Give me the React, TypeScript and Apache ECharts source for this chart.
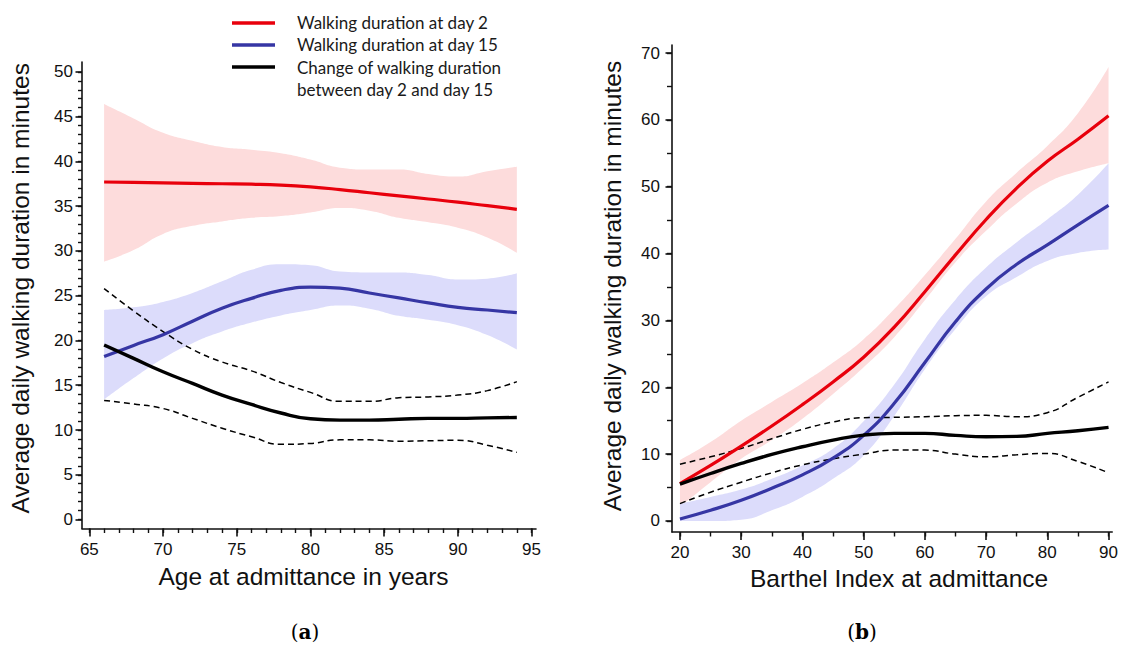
import React, { useEffect, useRef } from "react";
import * as echarts from "echarts";

// ---------- Panel (a): age at admittance ----------
const ageX = [66, 68, 70, 72, 74, 76, 78, 80, 82, 84, 86, 88, 90, 92, 94];
const ageRed = [37.7, 37.65, 37.6, 37.55, 37.5, 37.45, 37.35, 37.15, 36.85, 36.5, 36.15, 35.8, 35.45, 35.05, 34.65];
const ageRedHi = [46.4, 44.8, 43.2, 42.3, 41.6, 41.3, 40.9, 40.2, 39.3, 39.1, 39.1, 38.6, 38.3, 38.9, 39.4];
const ageRedLo = [28.8, 30.1, 31.9, 32.8, 33.3, 33.7, 33.9, 34.3, 34.8, 34.5, 33.7, 33.2, 32.6, 31.5, 29.8];
const ageBlue = [18.2, 19.45, 20.65, 22.15, 23.6, 24.7, 25.6, 25.95, 25.85, 25.3, 24.75, 24.2, 23.7, 23.4, 23.1];
const ageBlueHi = [23.4, 23.7, 24.3, 25.3, 26.6, 27.9, 28.5, 28.4, 27.7, 27.6, 27.6, 27.3, 26.8, 26.9, 27.5];
const ageBlueLo = [13.4, 15.8, 18.0, 19.7, 21.0, 22.0, 22.8, 23.4, 23.9, 23.55, 22.75, 22.3, 21.7, 20.6, 19.0];
const ageChange = [19.5, 18.0, 16.5, 15.2, 13.9, 12.85, 11.9, 11.25, 11.1, 11.1, 11.2, 11.3, 11.3, 11.35, 11.4];
const ageChangeHi = [25.8, 23.3, 21.0, 19.0, 17.6, 16.6, 15.3, 14.2, 13.2, 13.2, 13.6, 13.7, 13.9, 14.4, 15.4];
const ageChangeLo = [13.3, 12.9, 12.4, 11.3, 10.2, 9.25, 8.4, 8.5, 8.9, 8.9, 8.75, 8.8, 8.85, 8.3, 7.5];

const ageTicks = [65, 70, 75, 80, 85, 90, 95];
const ageMinorTicks = Array.from({ length: 31 }, (_, i) => 65 + i);
const ageYTicks = [0, 5, 10, 15, 20, 25, 30, 35, 40, 45, 50];
const ageYMinorTicks = Array.from({ length: 51 }, (_, i) => i);

// ---------- Panel (b): Barthel index ----------
const barX = [20, 25, 30, 35, 40, 45, 50, 55, 60, 65, 70, 75, 80, 85, 90];
const barRed = [5.6, 8.3, 11.2, 14.2, 17.4, 20.8, 24.5, 29.0, 34.3, 39.8, 45.1, 49.8, 53.8, 57.1, 60.6];
const barRedHi = [9.1, 11.8, 15.0, 17.8, 20.6, 23.7, 27.2, 31.7, 36.8, 42.2, 47.8, 52.1, 56.1, 61.0, 67.9];
const barRedLo = [2.1, 5.8, 9.3, 12.1, 15.3, 19.0, 23.0, 27.5, 33.0, 38.7, 43.4, 47.5, 50.6, 52.3, 53.5];
const barBlue = [0.3, 1.6, 3.1, 4.9, 6.9, 9.4, 12.8, 17.6, 23.7, 29.8, 34.7, 38.4, 41.3, 44.3, 47.2];
const barBlueHi = [2.1, 3.3, 4.7, 6.3, 8.3, 10.8, 14.9, 20.4, 27.2, 33.1, 37.9, 41.7, 45.1, 48.8, 53.5];
const barBlueLo = [-0.5, -0.3, 0.2, 1.6, 3.6, 6.3, 9.8, 15.7, 22.7, 28.7, 33.6, 36.5, 38.9, 40.1, 40.6];
const barChange = [5.5, 7.1, 8.6, 9.95, 11.1, 12.1, 12.85, 13.1, 13.1, 12.8, 12.6, 12.65, 13.1, 13.5, 14.0];
const barChangeHi = [8.5, 9.6, 10.85, 12.3, 13.7, 14.8, 15.45, 15.5, 15.6, 15.75, 15.8, 15.6, 16.2, 18.5, 20.8];
const barChangeLo = [2.6, 4.3, 5.8, 7.2, 8.4, 9.3, 10.0, 10.6, 10.6, 10.0, 9.6, 9.9, 10.1, 8.9, 7.2];

const barTicks = [20, 30, 40, 50, 60, 70, 80, 90];
const barMinorTicks = [20, 25, 30, 35, 40, 45, 50, 55, 60, 65, 70, 75, 80, 85, 90];
const barYTicks = [0, 10, 20, 30, 40, 50, 60, 70];
const barYMinorTicks = [0, 5, 10, 15, 20, 25, 30, 35, 40, 45, 50, 55, 60, 65, 70];

const legendLabels = [
  "Walking duration at day 2",
  "Walking duration at day 15",
  "Change of walking duration",
  "between day 2 and day 15",
];

const RED = "#e8000c";
const BLUE = "#3636a4";
const BLACK = "#000000";
const RED_BAND = "#fddcdc";
const BLUE_BAND = "#dcdcfb";
const AXIS = "#111111";
const FONT = "Liberation Sans";

function xAxes(grid: number, min: number, max: number, major: number[], minor: number[], name: string, nameGap: number, margin: number, pad: number[]) {
  return [
    {
      type: "value", gridIndex: grid, position: "bottom", min, max, z: 10,
      name, nameLocation: "middle", nameGap,
      nameTextStyle: { fontSize: 24.5, color: AXIS, fontFamily: FONT, padding: pad },
      axisLine: { show: true, onZero: false, lineStyle: { color: AXIS, width: 1.6 } },
      axisTick: { show: true, customValues: major, length: 8, lineStyle: { color: AXIS, width: 1.6 } },
      axisLabel: { customValues: major, fontSize: 17, color: AXIS, margin, fontFamily: FONT },
      splitLine: { show: false },
    },
    {
      type: "value", gridIndex: grid, position: "bottom", min, max, z: 10,
      axisLine: { show: false, onZero: false },
      axisTick: { show: true, customValues: minor, length: 4.5, lineStyle: { color: AXIS, width: 1.4 } },
      axisLabel: { show: false },
      splitLine: { show: false },
    },
  ];
}

function yAxes(grid: number, min: number, max: number, major: number[], minor: number[], name: string, nameGap: number, margin: number, minorLen: number, pad: number[]) {
  return [
    {
      type: "value", gridIndex: grid, position: "left", min, max, z: 10,
      name, nameLocation: "middle", nameGap,
      nameTextStyle: { fontSize: 24.5, color: AXIS, fontFamily: FONT, padding: pad },
      axisLine: { show: true, onZero: false, lineStyle: { color: AXIS, width: 1.6 } },
      axisTick: { show: true, customValues: major, length: 6.5, lineStyle: { color: AXIS, width: 1.6 } },
      axisLabel: { customValues: major, fontSize: 17, color: AXIS, margin, fontFamily: FONT },
      splitLine: { show: false },
    },
    {
      type: "value", gridIndex: grid, position: "left", min, max, z: 10,
      axisLine: { show: false, onZero: false },
      axisTick: { show: true, customValues: minor, length: minorLen, lineStyle: { color: AXIS, width: 1.4 } },
      axisLabel: { show: false },
      splitLine: { show: false },
    },
  ];
}

// Confidence band as a stacked pair: the lower bound (invisible) and the band
// width stacked on top of it. The value comes first in each item so that the
// stack is applied to the y values.
function band(id: string, xs: number[], lo: number[], hi: number[], color: string, xi: number, yi: number) {
  return [
    {
      type: "line", id: id + "lo", xAxisIndex: xi, yAxisIndex: yi, smooth: true, stack: id,
      symbol: "none", silent: true, lineStyle: { opacity: 0, width: 0 },
      encode: { x: 1, y: 0 },
      data: xs.map((x, i) => [lo[i], x]),
    },
    {
      type: "line", id: id + "hi", xAxisIndex: xi, yAxisIndex: yi, smooth: true, stack: id,
      symbol: "none", silent: true, lineStyle: { opacity: 0, width: 0 },
      areaStyle: { color, opacity: 1 },
      encode: { x: 1, y: 0 },
      data: xs.map((x, i) => [hi[i] - lo[i], x]),
    },
  ];
}

function line(id: string, xs: number[], ys: number[], color: string, width: number, xi: number, yi: number, dashed = false) {
  return {
    type: "line", id, xAxisIndex: xi, yAxisIndex: yi, smooth: true, symbol: "none", silent: true,
    lineStyle: { color, width, type: dashed ? [6, 4] : "solid", cap: "butt" },
    z: dashed ? 3 : 4,
    data: xs.map((x, i) => [x, ys[i]]),
  };
}

export default function App() {
  const ref = useRef<HTMLDivElement>(null);
  useEffect(() => {
    if (!ref.current) return;
    const chart = echarts.init(ref.current, undefined, { renderer: "svg" });

    const legendColors = [RED, BLUE, BLACK];
    const legendLineY = [23, 45, 67];
    const legendTextY = [22, 44, 67, 89];
    const graphic: any[] = [];
    legendColors.forEach((c, i) => {
      graphic.push({
        type: "line", shape: { x1: 232, y1: legendLineY[i], x2: 275, y2: legendLineY[i] },
        style: { stroke: c, lineWidth: 3.5 },
      });
    });
    legendLabels.forEach((t, i) => {
      graphic.push({
        type: "text", x: 297, y: legendTextY[i],
        style: { text: t, fill: "#1a1a1a", font: "17px Lato", align: "left", verticalAlign: "middle" },
      });
    });
    [["a", 305], ["b", 862]].forEach(([letter, x]) => {
      graphic.push({
        type: "text", x: x as number, y: 632,
        style: {
          text: "{n|(}{b|" + letter + "}{n|)}",
          align: "center", verticalAlign: "middle",
          rich: {
            n: { fontFamily: "DejaVu Serif", fontSize: 20, fill: "#000" },
            b: { fontFamily: "DejaVu Serif", fontSize: 20, fontWeight: "bold", fill: "#000" },
          },
        },
      });
    });

    const option: any = {
      animation: false,
      backgroundColor: "#ffffff",
      grid: [
        { left: 82, top: 62, width: 454, height: 466.5 },
        { left: 672, top: 45, width: 445, height: 487 },
      ],
      xAxis: [
        ...xAxes(0, 64.5, 95.3, ageTicks, ageMinorTicks, "Age at admittance in years", 35, 12, [0, 11, 0, 0]),
        ...xAxes(1, 18.7, 90.6, barTicks, barMinorTicks, "Barthel Index at admittance", 33, 12, [0, 0, 0, 14]),
      ],
      yAxis: [
        ...yAxes(0, -1.0, 51.1, ageYTicks, ageYMinorTicks, "Average daily walking duration in minutes", 49, 9, 4, [0, 0, 0, 14]),
        ...yAxes(1, -1.65, 71.2, barYTicks, barYMinorTicks, "Average daily walking duration in minutes", 47, 12, 5, [0, 0, 0, 5]),
      ],
      graphic,
      series: [
        ...band("aRed", ageX, ageRedLo, ageRedHi, RED_BAND, 0, 0),
        ...band("aBlue", ageX, ageBlueLo, ageBlueHi, BLUE_BAND, 0, 0),
        line("aChHi", ageX, ageChangeHi, BLACK, 1.5, 0, 0, true),
        line("aChLo", ageX, ageChangeLo, BLACK, 1.5, 0, 0, true),
        line("aRed", ageX, ageRed, RED, 3.2, 0, 0),
        line("aBlue", ageX, ageBlue, BLUE, 3.2, 0, 0),
        line("aCh", ageX, ageChange, BLACK, 3.4, 0, 0),

        ...band("bRed", barX, barRedLo, barRedHi, RED_BAND, 2, 2),
        ...band("bBlue", barX, barBlueLo, barBlueHi, BLUE_BAND, 2, 2),
        line("bChHi", barX, barChangeHi, BLACK, 1.5, 2, 2, true),
        line("bChLo", barX, barChangeLo, BLACK, 1.5, 2, 2, true),
        line("bRed", barX, barRed, RED, 3.2, 2, 2),
        line("bBlue", barX, barBlue, BLUE, 3.2, 2, 2),
        line("bCh", barX, barChange, BLACK, 3.4, 2, 2),
      ],
    };
    chart.setOption(option);
    return () => chart.dispose();
  }, []);
  return <div ref={ref} style={{ width: 1121, height: 646, position: "absolute", left: 0, top: 0 }} />;
}
